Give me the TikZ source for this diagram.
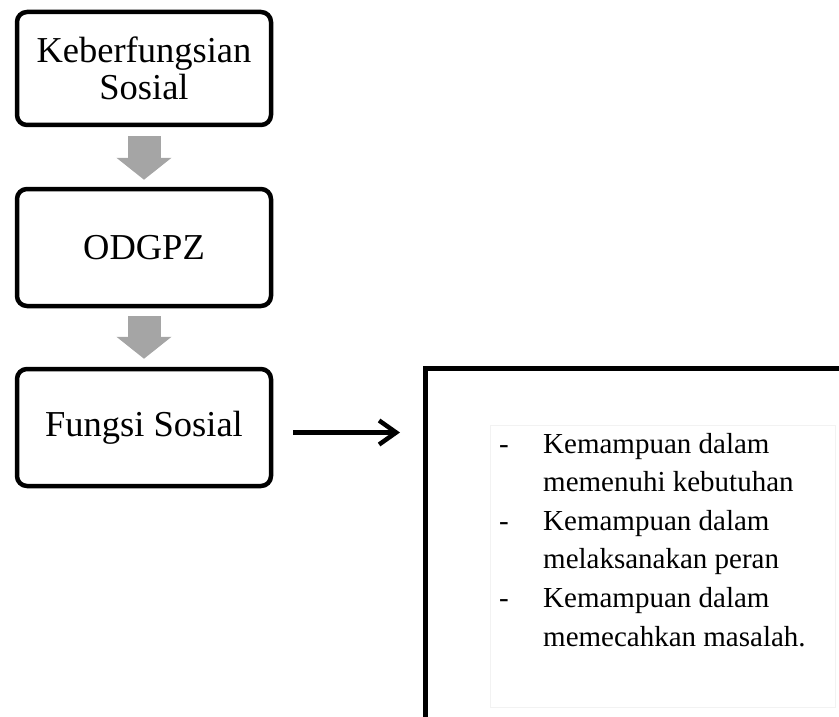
\documentclass[tikz,border=0pt]{standalone}
\usepackage{fontspec}
\setmainfont{Liberation Serif}
\usetikzlibrary{arrows.meta}
\definecolor{arrgray}{RGB}{165,165,165}
\begin{document}
\begin{tikzpicture}[x=1pt,y=-1pt,
    box/.style={draw, line width=4.5pt, rounded corners=10pt, minimum width=254pt,
      align=center, font=\fontsize{36.5}{37}\selectfont},
    down/.style={arrgray, line width=33pt, -{Triangle[width=54pt,length=22pt]}}]
      \useasboundingbox (0,0) rectangle (839,717);
      \clip (0,0) rectangle (839,717);

      % left column
      \node (KS) [box, minimum height=113pt] at (144,68.5)  {Keberfungsian\\Sosial};
      \node (OD) [box, minimum height=117pt] at (144,247.5) {ODGPZ};
      \node (FS) [box, minimum height=117pt] at (144,427.5) {Fungsi Sosial};

      \draw [down] ([yshift=-9pt]KS.south) -- ([yshift=7pt]OD.north);
      \draw [down] ([yshift=-8pt]OD.south) -- ([yshift=8pt]FS.north);

      % right box
      \node (KB) [draw, line width=4.5pt, minimum width=500pt, minimum height=420pt,
        anchor=north west] at (423,366) {};
      \node (KL) [draw=black!5, line width=0.8pt, minimum width=345pt, minimum height=282pt,
        anchor=north west] at (490,425) {};

      \draw [line width=4.5pt, -{Straight Barb[length=17pt,width=24pt]}]
        ([xshift=20pt,yshift=-5pt]FS.east) -- ([xshift=-23pt,yshift=-5pt]FS.east -| KB.west);

      % list
      \node (L) [anchor=base west, inner sep=0pt] at (499,453) {\fontsize{29}{38.6}\selectfont
        \begin{tabular}[t]{@{}p{44pt}@{}l@{}}
          - & Kemampuan dalam\\
            & memenuhi kebutuhan\\
          - & Kemampuan dalam\\
            & melaksanakan peran\\
          - & Kemampuan dalam\\
            & memecahkan masalah.
        \end{tabular}};
    \end{tikzpicture}
\end{document}
